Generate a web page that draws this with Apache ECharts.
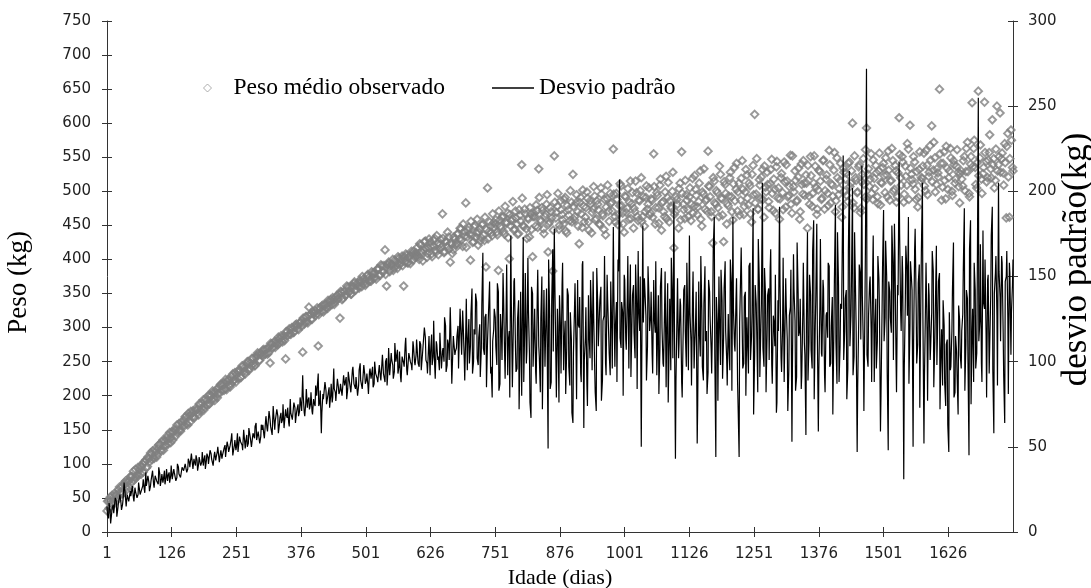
<!DOCTYPE html>
<html>
<head>
<meta charset="utf-8">
<script src="https://cdn.jsdelivr.net/npm/echarts@6/dist/echarts.min.js"></script>
<style>
  html, body { margin: 0; background: #fff; }
  #chart { width: 1091px; height: 588px; }
</style>
</head>
<body>
<div id="chart"></div>
<script>
// Values. The "A" lists sit on days 1, 4, 7 ...
// and the "B" lists on days 2, 5, 8 ... so the cloud keeps its density.
const firstDay = 1;
const dayStep = 3;
const lastDay = 1751;
const dayTicks = [1, 126, 251, 376, 501, 626, 751, 876, 1001, 1126, 1251, 1376, 1501, 1626];

// Peso médio observado (kg), left axis
const pesoMedioA = [
  31,46,51,43,40,57,54,51,66,59,56,70,75,63,75,81,73,89,80,80,95,91,85,100,103,
  106,96,108,116,106,111,122,110,123,129,119,135,127,127,142,137,131,147,147,140,157,149,149,162,156,
  156,170,157,170,177,169,168,181,180,172,188,182,194,183,187,200,188,200,207,196,205,197,212,216,208,
  219,210,209,224,223,217,232,223,220,236,235,227,244,236,232,247,250,240,244,255,244,256,263,252,261,
  259,268,261,269,263,248,276,271,280,276,275,284,288,279,288,254,294,290,291,300,293,300,305,299,306,
  309,264,305,316,309,330,320,312,321,325,320,273,329,324,333,326,334,328,338,341,334,341,338,347,342,
  314,352,343,353,348,360,352,349,361,365,355,363,360,370,360,371,369,365,378,370,368,380,379,374,386,
  386,377,391,382,414,361,393,382,392,400,388,397,387,402,395,405,361,396,406,395,406,412,399,408,404,
  418,400,421,410,414,427,403,417,425,408,420,431,411,424,415,429,467,410,426,419,433,396,422,414,430,
  424,438,430,445,419,441,483,433,447,399,436,426,450,439,421,445,432,452,428,389,505,441,449,435,454,
  452,440,384,458,446,463,437,455,468,401,449,460,443,471,452,438,465,539,450,474,445,461,433,467,404,
  468,449,472,533,458,476,445,463,481,411,455,470,383,552,461,478,444,486,466,452,491,439,473,457,484,
  525,458,483,470,423,491,447,478,462,499,455,486,439,474,493,460,481,452,505,467,444,436,489,471,497,
  484,562,463,497,451,479,508,468,440,492,475,459,515,482,446,470,498,457,486,520,463,449,491,474,505,
  468,487,555,452,498,476,509,443,485,463,522,491,455,478,500,417,470,488,446,512,558,481,460,495,473,
  492,457,519,478,503,466,485,530,449,496,474,488,559,507,470,424,515,481,498,463,525,489,426,510,452,
  479,520,492,458,535,503,471,512,487,545,466,499,524,480,508,455,538,613,496,474,517,489,532,462,506,
  528,485,511,547,472,503,536,490,459,520,498,543,477,515,494,553,468,507,530,485,521,459,540,496,512,
  524,446,493,551,478,512,537,466,502,529,488,545,474,518,497,560,483,509,531,470,549,495,516,462,534,
  500,527,485,543,512,600,476,520,498,536,469,514,548,491,593,525,507,555,488,519,538,492,530,480,512,
  541,498,524,559,487,516,545,503,530,492,608,520,551,484,537,509,562,597,525,511,543,488,477,532,515,
  519,556,501,538,522,567,596,531,549,510,527,650,541,506,558,489,534,520,563,500,545,512,537,528,483,
  530,508,551,529,572,497,540,630,563,535,505,647,549,518,526,631,544,520,557,533,605,548,516,625,539,
  615,548,527,570,461,585,462,590,535
];
const pesoMedioB = [
  45,35,46,54,45,54,46,62,57,66,57,73,66,73,66,82,82,76,92,84,83,96,96,88,103,
  94,110,103,114,119,108,118,113,128,120,132,120,133,138,129,146,138,135,151,150,145,159,148,159,164,
  169,159,174,161,173,178,168,178,175,188,177,189,179,195,193,187,202,194,204,193,209,203,203,217,215,
  208,224,221,215,213,229,222,234,231,225,238,227,243,241,235,250,237,248,255,247,244,259,261,252,262,
  267,260,268,261,271,277,270,278,271,279,286,278,286,283,281,294,288,298,290,298,293,304,302,297,308,
  302,314,308,316,307,318,312,323,321,318,329,319,328,332,323,334,330,340,332,338,344,334,345,342,349,
  353,341,353,347,361,352,360,349,359,367,356,366,358,367,375,365,362,376,373,368,382,372,381,371,386,
  377,392,382,391,378,392,396,385,393,384,399,392,404,392,400,391,404,408,395,403,394,408,412,403,409,
  405,423,412,398,426,416,409,430,419,404,428,413,435,407,422,418,431,412,427,440,415,424,409,433,421,
  437,421,446,429,452,434,418,443,437,456,425,448,433,459,440,427,451,436,462,444,430,455,439,467,447,
  458,436,471,449,462,441,478,453,432,466,457,485,445,461,437,473,456,490,448,467,431,459,476,444,463,
  463,480,447,491,456,472,438,467,495,452,476,461,443,484,469,497,450,473,458,488,442,479,465,501,455,
  478,463,495,449,484,467,502,455,476,490,443,481,469,507,458,486,473,451,496,464,488,477,509,456,482,
  471,496,455,488,466,511,479,452,493,469,504,484,460,498,475,515,463,487,501,456,492,470,508,481,465,
  489,462,507,476,494,453,518,483,470,499,460,513,486,475,528,466,492,481,504,458,497,473,516,487,463,
  505,481,468,523,494,477,512,459,499,533,486,471,508,492,463,520,483,501,476,537,490,465,514,497,482,
  493,528,470,511,486,541,499,465,519,503,478,532,490,512,467,525,495,483,548,474,509,521,488,537,499,
  510,476,532,497,518,468,544,505,489,526,473,514,539,492,507,481,552,499,516,487,534,470,510,545,494,
  512,538,481,523,497,552,506,474,531,515,490,546,501,524,479,539,511,493,557,486,520,504,541,477,528,
  518,494,541,507,530,483,552,516,499,539,475,525,510,561,489,533,518,497,546,504,527,482,556,513,535,
  523,549,492,531,515,563,500,538,484,527,554,509,543,496,522,570,488,534,517,551,503,529,491,558,520,
  537,508,560,495,528,546,514,572,499,533,521,555,487,541,516,566,503,530,549,494,539,518,561,507,526,
  518,545,501,563,529,492,551,536,575,510,542,523,568,497,535,557,514,546,583,520,539,505,562,530,551,
  528,556,509,542,566,521,548,575,530
];

// Desvio padrão (kg), right axis
const desvioPadraoA = [
  15,8,13,6,16,12,18,14,20,17,16,29,19,22,18,24,21,20,26,23,22,28,24,27,25,
  35,26,29,27,31,28,33,30,28,34,31,29,36,32,30,35,33,31,37,34,32,38,35,33,37,
  36,39,37,41,38,40,43,39,42,40,44,41,39,45,42,44,41,46,43,45,42,47,44,46,43,
  46,51,43,50,47,55,45,51,48,58,46,53,51,60,49,57,52,62,50,58,55,64,53,60,56,
  60,57,64,61,58,66,62,74,60,65,68,63,70,66,61,72,67,64,78,69,66,73,70,75,71,
  74,92,70,76,73,79,75,71,78,74,80,93,76,58,81,77,83,79,85,80,76,96,82,78,85,
  83,88,80,86,91,84,89,82,95,87,84,91,86,99,88,83,92,89,86,94,90,97,87,93,90,
  95,91,99,93,88,102,96,92,105,98,94,100,107,97,91,103,99,110,95,101,106,98,112,100,104,
  103,97,110,94,106,114,99,108,92,116,103,97,112,101,95,118,106,100,121,98,109,132,87,115,104,
  108,121,97,113,130,102,118,95,125,109,143,100,116,135,98,122,107,164,104,128,112,138,93,79,119,
  126,98,141,87,115,152,104,132,92,118,174,85,147,108,96,136,112,80,173,123,99,161,105,67,140,
  118,94,137,109,82,150,121,97,143,49,128,88,166,178,102,131,76,119,145,95,124,108,139,86,113,
  64,131,107,148,120,93,157,61,114,86,139,102,125,153,96,71,132,110,144,89,127,99,151,116,92,
  118,179,97,135,160,207,108,129,151,113,138,96,157,124,145,102,133,165,118,50,180,149,127,109,136,
  126,104,148,117,92,139,108,155,99,131,85,146,113,95,137,194,43,128,102,137,88,119,145,97,121,
  174,112,138,96,125,52,147,103,130,89,156,118,94,141,107,133,185,44,122,150,98,136,114,159,101,
  128,95,146,185,110,137,88,44,152,119,99,141,126,93,158,115,190,104,134,82,147,121,205,97,139,
  116,143,155,98,127,109,70,136,191,102,121,88,149,113,95,132,53,163,124,91,140,118,84,129,111,
  57,176,112,139,96,183,121,181,59,133,105,148,92,127,114,156,99,138,118,192,87,145,109,131,221,
  118,142,96,212,127,202,103,139,47,124,151,215,108,133,272,97,146,119,154,88,137,112,149,59,128,
  189,126,150,48,141,117,158,181,103,145,217,129,162,31,136,154,185,121,148,50,166,132,110,157,138,
  205,52,134,118,146,101,129,153,112,168,97,152,108,86,121,74,113,47,95,118,170,82,106,69,124,
  96,128,190,110,137,45,183,119,88,142,105,255,124,99,177,131,116,148,93,139,191,58,152,127,205,
  138,162,117,64,150,126,158,104,145
];
const desvioPadraoB = [
  10,17,5,14,11,20,9,17,22,13,19,26,15,23,17,21,27,18,24,20,29,22,25,31,23,
  27,33,24,30,36,26,32,29,38,27,34,31,28,37,33,29,39,31,35,30,40,34,32,38,36,
  40,35,43,38,46,37,41,45,36,44,39,47,42,37,46,40,48,43,39,47,44,50,41,48,45,
  49,44,53,47,51,58,45,54,50,47,56,52,48,59,53,50,61,55,51,57,62,54,59,52,63,
  63,55,68,59,71,62,57,69,65,72,58,67,64,75,61,69,73,62,70,66,76,64,72,68,79,
  71,80,68,84,77,72,82,69,76,86,79,74,83,70,78,88,75,81,73,87,79,84,77,90,81,
  87,80,92,85,78,94,88,83,97,86,91,80,95,89,84,98,87,93,81,96,90,85,100,92,88,
  98,89,104,94,100,86,108,96,101,90,111,99,93,106,88,103,97,114,92,105,100,95,109,98,113,
  99,112,95,107,120,101,93,115,105,98,124,90,110,103,117,96,108,126,94,113,101,119,97,111,106,
  115,96,131,104,122,89,137,110,99,128,93,119,140,102,114,91,133,108,126,85,121,147,97,112,131,
  109,146,83,128,101,138,90,157,112,79,134,103,149,94,125,72,141,117,88,152,106,131,76,144,97,
  131,87,154,103,125,72,142,98,117,160,84,135,106,148,79,121,139,93,158,110,81,143,97,129,70,
  105,146,78,122,138,88,159,101,132,74,117,148,95,128,82,155,109,136,77,124,162,92,137,105,147,
  96,142,120,88,153,114,135,80,148,107,162,126,91,139,117,157,84,131,150,103,123,142,89,156,118,
  141,93,126,159,108,81,144,120,97,153,115,76,137,161,102,124,88,149,111,133,79,142,118,158,95,
  129,86,153,108,141,75,119,162,97,134,112,81,148,125,93,166,104,138,77,127,154,90,143,118,86,
  112,160,83,131,106,149,74,123,167,96,138,80,115,156,101,129,69,145,118,172,91,134,108,155,82,
  139,101,166,87,124,151,76,118,145,94,161,108,133,71,127,154,98,142,83,170,115,137,92,158,104,
  124,89,151,107,165,78,136,119,95,172,103,143,82,129,158,97,121,69,147,112,176,88,134,160,101,
  137,78,165,109,148,92,176,121,85,157,113,139,71,168,104,127,150,88,174,116,96,162,131,80,155,
  112,171,94,147,126,180,101,163,82,139,175,118,151,96,168,127,87,159,142,111,178,99,146,73,164,
  126,91,158,77,139,109,165,85,131,98,147,72,119,136,88,110,63,129,97,141,79,115,92,133,104,
  118,154,83,142,101,166,75,131,158,96,147,112,169,88,135,160,79,151,109,174,95,140,162,86,153,
  112,158,92,147,165,81,152,129,160
];

const serif = 'Liberation Serif';
const sans = 'DejaVu Sans';
const axisColor = '#333';

// put the two day-offsets back together in day order
function byDay(listA, listB) {
  const out = [];
  listA.forEach((v, i) => {
    out.push([firstDay + i * dayStep, v]);
    if (i < listB.length) out.push([firstDay + 1 + i * dayStep, listB[i]]);
  });
  return out;
}

const chart = echarts.init(document.getElementById('chart'));

// ticks cross the axis line like in Excel: outer ticks on the main axes,
// inner ticks on a second, label-less copy of each axis
const tickStyle = { lineStyle: { color: axisColor, width: 1 } };
const labelStyle = { color: '#222', fontFamily: sans, fontSize: 15 };

const option = {
  animation: false,
  backgroundColor: '#fff',
  grid: { left: 107, right: 78, top: 21, bottom: 56, containLabel: false, outerBoundsMode: 'none' },
  legend: [
    {
      data: [{ name: 'Peso médio observado', itemStyle: { color: '#fff', borderColor: '#9a9a9a', borderWidth: 1 } }],
      left: 203, top: 76, padding: 0,
      itemWidth: 8, itemHeight: 8,
      textStyle: { fontFamily: serif, fontSize: 23.5, color: '#000', padding: [0, 0, 0, 17] }
    },
    {
      data: [{ name: 'Desvio padrão', icon: 'rect' }],
      left: 492, top: 76, padding: 0,
      itemWidth: 42, itemHeight: 1.5,
      textStyle: { fontFamily: serif, fontSize: 23.5, color: '#000' }
    }
  ],
  xAxis: [
    {
      type: 'value', min: firstDay, max: lastDay,
      splitLine: { show: false },
      axisLine: { lineStyle: { color: axisColor, width: 1 } },
      axisTick: { length: 5, customValues: dayTicks, ...tickStyle },
      axisLabel: { customValues: dayTicks, margin: 15, formatter: v => String(v), ...labelStyle },
      name: 'Idade (dias)', nameLocation: 'middle', nameGap: 35,
      nameTextStyle: { fontFamily: serif, fontSize: 22, color: '#000' }
    },
    {
      type: 'value', min: firstDay, max: lastDay, position: 'bottom',
      splitLine: { show: false }, axisLine: { show: false }, axisLabel: { show: false },
      axisTick: { inside: true, length: 5, customValues: dayTicks, ...tickStyle }
    }
  ],
  yAxis: [
    {
      type: 'value', min: 0, max: 750, interval: 50, position: 'left',
      splitLine: { show: false },
      axisLine: { show: true, lineStyle: { color: axisColor, width: 1 } },
      axisTick: { show: true, length: 5, ...tickStyle },
      axisLabel: { margin: 16, ...labelStyle },
      name: 'Peso (kg)', nameLocation: 'middle', nameGap: 75, nameRotate: 90,
      nameTextStyle: { fontFamily: serif, fontSize: 27, color: '#000', padding: [0, 12, 0, 0] }
    },
    {
      type: 'value', min: 0, max: 300, interval: 50, position: 'right',
      splitLine: { show: false },
      axisLine: { show: true, lineStyle: { color: axisColor, width: 1 } },
      axisTick: { show: true, length: 5, ...tickStyle },
      axisLabel: { margin: 15, ...labelStyle },
      name: 'desvio padrão(kg)', nameLocation: 'middle', nameGap: 46, nameRotate: 90,
      nameMoveOverlap: false,
      nameTextStyle: { fontFamily: serif, fontSize: 35, color: '#000', padding: [0, 0, 0, 34] }
    },
    {
      type: 'value', min: 0, max: 750, interval: 50, position: 'left',
      splitLine: { show: false }, axisLine: { show: false }, axisLabel: { show: false },
      axisTick: { show: true, inside: true, length: 5, ...tickStyle }
    },
    {
      type: 'value', min: 0, max: 300, interval: 50, position: 'right',
      splitLine: { show: false }, axisLine: { show: false }, axisLabel: { show: false },
      axisTick: { show: true, inside: true, length: 5, ...tickStyle }
    }
  ],
  series: [
    {
      name: 'Peso médio observado',
      type: 'scatter',
      xAxisIndex: 0, yAxisIndex: 0,
      symbol: 'diamond',
      symbolSize: 7.5,
      itemStyle: { color: 'rgba(255,255,255,0)', borderColor: '#808080', borderWidth: 1.9 },
      data: byDay(pesoMedioA, pesoMedioB),
      z: 2
    },
    {
      name: 'Desvio padrão',
      type: 'line',
      xAxisIndex: 0, yAxisIndex: 1,
      symbol: 'none',
      lineStyle: { color: '#000', width: 1.2 },
      itemStyle: { color: '#000' },
      data: byDay(desvioPadraoA, desvioPadraoB),
      z: 3
    }
  ]
};

chart.setOption(option);
</script>
</body>
</html>
